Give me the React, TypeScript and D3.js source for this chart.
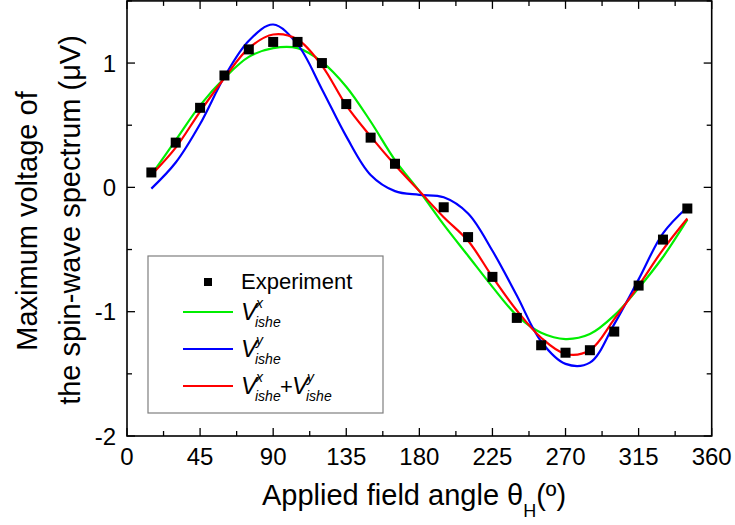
import React from "react";
import * as d3 from "d3";

const expAngles = [15, 30, 45, 60, 75, 90, 105, 120, 135, 150, 165, 195, 210, 225, 240, 255, 270, 285, 300, 315, 330, 345];
const expValues = [0.12, 0.36, 0.64, 0.9, 1.11, 1.17, 1.17, 1.0, 0.67, 0.4, 0.19, -0.16, -0.4, -0.72, -1.05, -1.27, -1.33, -1.31, -1.16, -0.79, -0.42, -0.17];

const curveAngles = [15, 30, 45, 60, 75, 90, 105, 120, 135, 150, 165, 180, 195, 210, 225, 240, 255, 270, 285, 300, 315, 330, 345];
const vxValues = [0.1, 0.38, 0.66, 0.88, 1.05, 1.12, 1.12, 1.01, 0.81, 0.53, 0.22, -0.03, -0.3, -0.55, -0.8, -1.03, -1.17, -1.22, -1.18, -1.03, -0.81, -0.56, -0.26];
const vyValues = [-0.01, 0.2, 0.51, 0.89, 1.18, 1.31, 1.15, 0.79, 0.41, 0.1, -0.03, -0.06, -0.08, -0.21, -0.51, -0.87, -1.24, -1.42, -1.41, -1.1, -0.74, -0.37, -0.16];
const vsumValues = [0.1, 0.32, 0.61, 0.88, 1.12, 1.23, 1.19, 0.98, 0.66, 0.41, 0.18, -0.03, -0.24, -0.43, -0.72, -0.99, -1.21, -1.34, -1.31, -1.06, -0.79, -0.5, -0.25];

const xTicks = [0, 45, 90, 135, 180, 225, 270, 315, 360];
const yTicks = [-2, -1, 0, 1];

const FONT = "'Liberation Sans', Arial, sans-serif";

export default function App() {
  const W = 735, H = 525;
  const x = d3.scaleLinear().domain([0, 360]).range([127, 711.7]);
  const y = d3.scaleLinear().domain([-2, 1.5]).range([436, 0.9]);
  const left = x(0), right = x(360), top = y(1.5), bottom = y(-2);

  const line = d3.line<[number, number]>()
    .x(d => x(d[0]))
    .y(d => y(d[1]))
    .curve(d3.curveCatmullRom.alpha(0.5));

  const series = [
    { vals: vxValues, color: "#00ee00" },
    { vals: vyValues, color: "#0000ff" },
    { vals: vsumValues, color: "#ff0000" },
  ];

  const xMinor = d3.range(0, 361, 22.5);
  const yMinor = d3.range(-2, 1.51, 0.5);
  const majLen = 8, minLen = 5;

  return (
    <svg width={W} height={H} style={{ position: "absolute", left: 0, top: 0, background: "#fff" }} fontFamily={FONT}>
      <rect x={0} y={0} width={W} height={H} fill="#fff" />
      <defs>
        <clipPath id="plotclip">
          <rect x={left} y={top} width={right - left} height={bottom - top} />
        </clipPath>
      </defs>

      {/* curves */}
      <g clipPath="url(#plotclip)">
        {series.map((s, i) => (
          <path key={i} d={line(curveAngles.map((a, j) => [a, s.vals[j]] as [number, number])) || ""}
            fill="none" stroke={s.color} strokeWidth={2.2} />
        ))}
        {expAngles.map((a, i) => (
          <rect key={i} x={x(a) - 5} y={y(expValues[i]) - 5} width={10} height={10} fill="#000" />
        ))}
      </g>

      {/* frame */}
      <rect x={left} y={top} width={right - left} height={bottom - top} fill="none" stroke="#000" strokeWidth={1.6} />

      {/* ticks */}
      {xMinor.map((v, i) => {
        const isMaj = v % 45 === 0;
        const len = isMaj ? majLen : minLen;
        return (
          <g key={"xt" + i} stroke="#000" strokeWidth={1.3}>
            <line x1={x(v)} x2={x(v)} y1={bottom} y2={bottom - len} />
            <line x1={x(v)} x2={x(v)} y1={top} y2={top + len} />
          </g>
        );
      })}
      {yMinor.map((v, i) => {
        const isMaj = Math.abs(v - Math.round(v)) < 1e-6;
        const len = isMaj ? majLen : minLen;
        return (
          <g key={"yt" + i} stroke="#000" strokeWidth={1.3}>
            <line x1={left} x2={left + len} y1={y(v)} y2={y(v)} />
            <line x1={right} x2={right - len} y1={y(v)} y2={y(v)} />
          </g>
        );
      })}

      {/* tick labels */}
      {xTicks.map(v => (
        <text key={"xl" + v} x={x(v)} y={465} textAnchor="middle" fontSize={24} fill="#000">{v}</text>
      ))}
      {yTicks.map(v => (
        <text key={"yl" + v} x={116} y={y(v) + 8.5} textAnchor="end" fontSize={24} fill="#000">{v}</text>
      ))}

      {/* axis titles */}
      <text x={262} y={505} fontSize={29} fill="#000">
        Applied field angle θ<tspan fontSize={18} dy={12}>H</tspan><tspan dy={-12}>(º)</tspan>
      </text>
      <g transform="translate(37,221) rotate(-90)">
        <text x={0} y={0} textAnchor="middle" fontSize={29} fill="#000">Maximum voltage of</text>
      </g>
      <g transform="translate(80,220) rotate(-90)">
        <text x={0} y={0} textAnchor="middle" fontSize={29} fill="#000">the spin-wave spectrum (μV)</text>
      </g>

      {/* legend */}
      <rect x={148} y={256} width={235} height={157} fill="#fff" stroke="#7f7f7f" strokeWidth={1.2} />
      <rect x={204} y={278} width={8} height={8} fill="#000" />
      <text x={241} y={289} fontSize={22} fill="#000">Experiment</text>

      {[
        { color: "#00ee00", yy: 312, kind: "x" },
        { color: "#0000ff", yy: 349, kind: "y" },
        { color: "#ff0000", yy: 386, kind: "xy" },
      ].map((e, i) => (
        <g key={"lg" + i}>
          <line x1={183} x2={233} y1={e.yy} y2={e.yy} stroke={e.color} strokeWidth={2.2} />
          <text x={241} y={e.yy + 8} fontSize={24} fontStyle="italic" fill="#000">V</text>
          <text x={256} y={e.yy - 4} fontSize={14} fontStyle="italic" fill="#000">{e.kind === "y" ? "y" : "x"}</text>
          <text x={255} y={e.yy + 15} fontSize={14} fontStyle="italic" fill="#000">ishe</text>
          {e.kind === "xy" && (
            <g>
              <text x={280} y={e.yy + 8} fontSize={22} fill="#000">+</text>
              <text x={292} y={e.yy + 8} fontSize={24} fontStyle="italic" fill="#000">V</text>
              <text x={307} y={e.yy - 4} fontSize={14} fontStyle="italic" fill="#000">y</text>
              <text x={306} y={e.yy + 15} fontSize={14} fontStyle="italic" fill="#000">ishe</text>
            </g>
          )}
        </g>
      ))}
    </svg>
  );
}
